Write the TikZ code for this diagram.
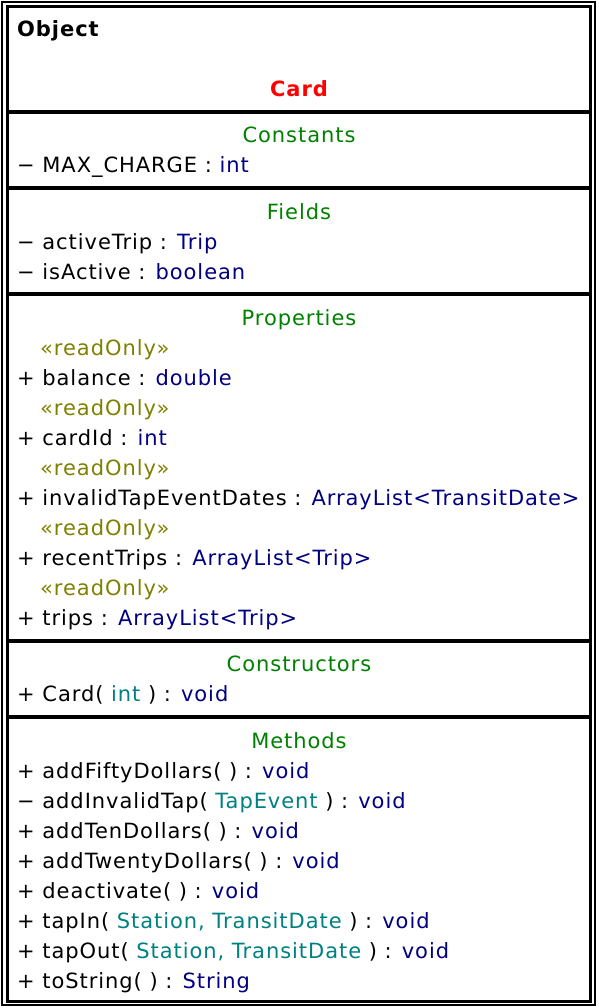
\documentclass[tikz,border=0pt]{standalone}
\usepackage{fontspec}
\setmainfont{DejaVu Sans}[LetterSpace=4.5]
\usetikzlibrary{positioning}

% colours of the class box
\definecolor{cardred}{RGB}{255,0,0}
\definecolor{hdrgreen}{RGB}{0,128,0}
\definecolor{typenavy}{RGB}{0,0,128}
\definecolor{argteal}{RGB}{0,128,128}
\definecolor{stereoolive}{RGB}{128,128,0}

\newcommand{\typ}[1]{\textcolor{typenavy}{#1}}
\newcommand{\parm}[1]{\textcolor{argteal}{#1}}

\tikzset{
  member/.style={anchor=base west, inner sep=0pt, font=\fontsize{21}{25}\selectfont},
  stereo/.style={member, text=stereoolive},
  header/.style={anchor=base, inner sep=0pt, text=hdrgreen, font=\fontsize{21}{25}\selectfont},
  divider/.style={line width=4pt}
}

\begin{document}
\begin{tikzpicture}[x=1pt, y=-1pt]
\useasboundingbox (0,0) rectangle (598,1008);

% Draw the double frame
\draw[line width=2.5pt] (1.8,1.8) rectangle (594.8,1005.2);
\draw[line width=3pt] (7.8,6.8) rectangle (590.2,1001.2);

% Draw the section dividers
\draw[divider] (7.8,112) -- (590.2,112);
\draw[divider] (7.8,188) -- (590.2,188);
\draw[divider] (7.8,293.5) -- (590.2,293.5);
\draw[divider] (7.8,640.5) -- (590.2,640.5);
\draw[divider] (7.8,716.5) -- (590.2,716.5);

% Name compartment
\node[member, font=\fontsize{21}{25}\selectfont\bfseries] (super) at (17,37) {Object};
\node[header, text=cardred, font=\fontsize{21}{25}\selectfont\bfseries] (name) at (299,97) {Card};

% Constants
\node[header] (hconst) at (299,143) {Constants};
\node[member] (c1) at (17,173) {− MAX\_CHARGE : \typ{int}};

% Fields
\node[header] (hfield) at (299,219) {Fields};
\node[member] (f1) at (17,249) {− activeTrip : \typ{Trip}};
\node[member] (f2) at (17,279) {− isActive : \typ{boolean}};

% Properties
\node[header] (hprop) at (299,325) {Properties};
\node[stereo] (s1) at (40,355) {«readOnly»};
\node[member] (p1) at (17,385) {+ balance : \typ{double}};
\node[stereo] (s2) at (40,415) {«readOnly»};
\node[member] (p2) at (17,445) {+ cardId : \typ{int}};
\node[stereo] (s3) at (40,475) {«readOnly»};
\node[member] (p3) at (17,505) {+ invalidTapEventDates : \typ{ArrayList<TransitDate>}};
\node[stereo] (s4) at (40,535) {«readOnly»};
\node[member] (p4) at (17,565) {+ recentTrips : \typ{ArrayList<Trip>}};
\node[stereo] (s5) at (40,595) {«readOnly»};
\node[member] (p5) at (17,625) {+ trips : \typ{ArrayList<Trip>}};

% Constructors
\node[header] (hctor) at (299,671) {Constructors};
\node[member] (k1) at (17,701) {+ Card( \parm{int} ) : \typ{void}};

% Methods
\node[header] (hmeth) at (299,748) {Methods};
\node[member] (m1) at (17,778) {+ addFiftyDollars( ) : \typ{void}};
\node[member] (m2) at (17,808) {− addInvalidTap( \parm{TapEvent} ) : \typ{void}};
\node[member] (m3) at (17,838) {+ addTenDollars( ) : \typ{void}};
\node[member] (m4) at (17,868) {+ addTwentyDollars( ) : \typ{void}};
\node[member] (m5) at (17,898) {+ deactivate( ) : \typ{void}};
\node[member] (m6) at (17,928) {+ tapIn( \parm{Station, TransitDate} ) : \typ{void}};
\node[member] (m7) at (17,958) {+ tapOut( \parm{Station, TransitDate} ) : \typ{void}};
\node[member] (m8) at (17,988) {+ toString( ) : \typ{String}};
\end{tikzpicture}
\end{document}
